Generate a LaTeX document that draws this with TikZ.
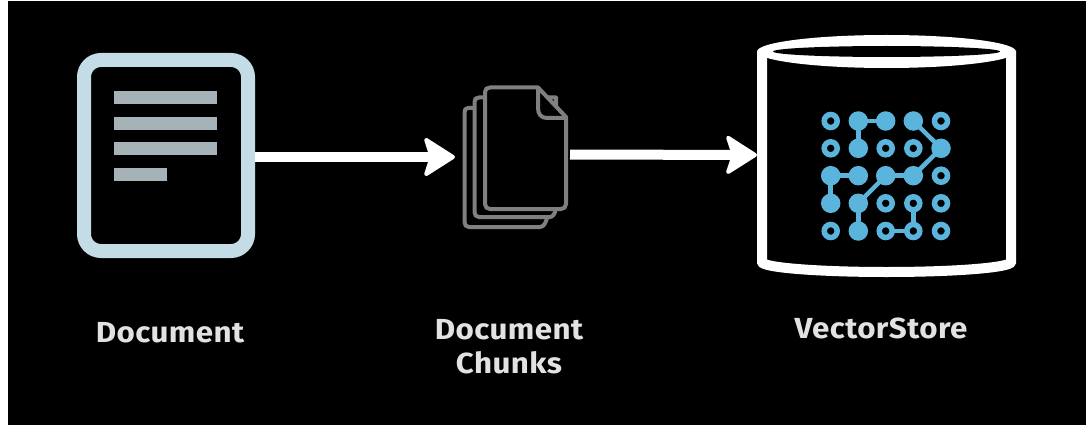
\documentclass[tikz,border=0pt]{standalone}
\usepackage{fontspec}
\setmainfont{Fira Sans}[BoldFont={Fira Sans Bold},LetterSpace=1.5,FakeStretch=1.08]
\usetikzlibrary{arrows.meta}
\definecolor{docframe}{HTML}{C3DCE6}
\definecolor{docbar}{HTML}{A5B3B8}
\definecolor{pagegrey}{HTML}{808080}
\definecolor{iconblue}{HTML}{5BB4DC}
\definecolor{labelgrey}{HTML}{E2E2E2}
\tikzset{
  x=1pt,y=-1pt,
  docbox/.style={draw=docframe,line width=14pt,rounded corners=17pt,minimum width=164pt,minimum height=191pt,inner sep=0pt,fill=black},
  extent/.style={inner sep=0pt,outer sep=0pt,minimum width=#1},
  bar/.style={fill=docbar},
  pageline/.style={draw=pagegrey,line width=4pt,line join=round,fill=black},
  flow/.style={draw=white,line width=10pt,-{Stealth[length=34pt,width=43pt,inset=7pt,round,line width=4pt]}},
  storeline/.style={draw=white,line width=10pt},
  solid dot/.style={circle,fill=iconblue,minimum size=19.5pt,inner sep=0pt},
  ring dot/.style={circle,draw=iconblue,fill=black,line width=5.5pt,minimum size=13pt,inner sep=0pt},
  link/.style={draw=iconblue,line width=4.5pt},
  caption/.style={text=labelgrey,font=\fontsize{29}{34}\selectfont\bfseries,align=center,inner sep=0pt}
}
\begin{document}
\begin{tikzpicture}
\useasboundingbox (0,0) rectangle (1086,425);
\fill[white] (0,0) rectangle (1086,425);
\fill[black] (8,1) rectangle (1086,425);
% document
\node[docbox] (doc) at (166,155.5) {};
\fill[bar] (114,91) rectangle (217,104);
\fill[bar] (114,117) rectangle (217,130);
\fill[bar] (114,142) rectangle (217,155);
\fill[bar] (114,168) rectangle (167,181);
% chunks
\node[extent=106pt,minimum height=143pt] (chunks) at (515,157.5) {};
\path[pageline] (476,108) -- (468,108) .. controls (465,108) and (464.5,110) .. (464.5,113)
  -- (464.5,222) .. controls (464.5,225) and (466,227) .. (469,227)
  -- (540,227) .. controls (544,227) and (546,222) .. (547,218) -- (547,108) -- cycle;
\path[pageline] (486,97.5) -- (479,97.5) .. controls (476,97.5) and (474.5,99) .. (474.5,102)
  -- (474.5,212) .. controls (474.5,215) and (476,217) .. (479,217)
  -- (550,217) .. controls (553,217) and (555,213) .. (556,209) -- (556,97.5) -- cycle;
\path[pageline] (490,87.5) -- (538,87.5) -- (566,117) -- (566,204)
  .. controls (566,207) and (564,209) .. (561,209)
  -- (490,209) .. controls (487,209) and (485,207) .. (485,204)
  -- (485,92) .. controls (485,89) and (487,87.5) .. (490,87.5) -- cycle;
\draw[pagegrey,line width=4pt,line join=round] (538,87.5) -- (538,108) .. controls (538,114) and (541,118) .. (547,118) -- (566,118);
% store
\node[extent=259pt,minimum height=242pt] (store) at (886.5,156) {};
\draw[storeline] (762,51) -- (762,262) arc[start angle=180,end angle=360,x radius=124.5,y radius=-10] -- (1011,51);
\fill[white] (886.5,51.5) ellipse[x radius=129.5,y radius=16.5];
\fill[black] (886.5,51.5) ellipse[x radius=113.5,y radius=5.5];
% icon
\foreach \r/\yy in {0/121,1/148.3,2/175.7,3/203.3,4/231}{
  \foreach \c/\xx in {0/830.7,1/858.3,2/885.7,3/913.3,4/941}{
    \coordinate (p\r\c) at (\xx,\yy);
  }
}
\foreach \a/\b in {01/02,01/11,03/14,14/23,22/23,20/21,20/30,22/31,31/41,33/43,42/43}{
  \draw[link] (p\a) -- (p\b);
}
\foreach \s in {01,02,03,11,14,20,21,22,23,30,31,41}{
  \node[solid dot] (n\s) at (p\s) {};
}
\foreach \s in {00,04,10,12,13,24,32,33,34,40,42,43,44}{
  \node[ring dot] (n\s) at (p\s) {};
}
% arrows
\draw[flow] ([yshift=-1.5pt]doc.east) -- ([xshift=-7pt,yshift=0.5pt]chunks.west);
\draw[flow] ([xshift=2pt,yshift=3pt]chunks.east) -- ([yshift=1pt]store.west);
% labels
\node[caption] (doclabel) at (170,333) {Document};
\node[caption] (chunklabel) at (509,347) {Document\\Chunks};
\node[caption] (storelabel) at (881,328) {VectorStore};
\end{tikzpicture}
\end{document}
